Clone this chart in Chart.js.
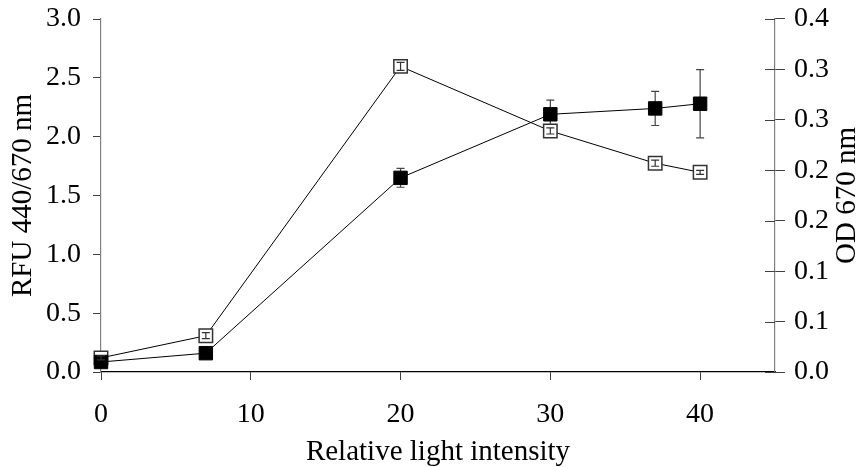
<!DOCTYPE html>
<html>
<head>
<meta charset="utf-8">
<script src="https://cdn.jsdelivr.net/npm/chart.js@4/dist/chart.umd.min.js"></script>
<style>
html,body{margin:0;padding:0;background:#fff;}
#wrap{width:863px;height:467px;}
</style>
</head>
<body>
<div id="wrap"><canvas id="c" width="863" height="467"></canvas></div>
<script>
// ---- data ----
const lightIntensity = [0, 7, 20, 30, 37, 40];
const rfuValues = [0.085, 0.16, 1.65, 2.19, 2.24, 2.28];
const rfuErrors = [0.02, 0.03, 0.08, 0.12, 0.145, 0.29];
const odValues = [0.014, 0.036, 0.303, 0.239, 0.207, 0.198];
const odErrors = [0.002, 0.003, 0.004, 0.003, 0.003, 0.002];
const xTickValues = [0, 10, 20, 30, 40];
const leftTickLabels = ['0.0', '0.5', '1.0', '1.5', '2.0', '2.5', '3.0'];
const rightTickLabels = ['0.0', '0.1', '0.1', '0.2', '0.2', '0.3', '0.3', '0.4'];
const xTitle = 'Relative light intensity';
const leftTitle = 'RFU 440/670 nm';
const rightTitle = 'OD 670 nm';

const FONT = "'Liberation Serif', 'Times New Roman', serif";

function drawBars(chart, dsIndex, values, errors, color) {
  const ctx = chart.ctx;
  const ds = chart.data.datasets[dsIndex];
  const xs = chart.scales.x;
  const ys = chart.scales[ds.yAxisID];
  ctx.save();
  ctx.strokeStyle = color;
  ctx.lineWidth = 1.2;
  for (let i = 0; i < values.length; i++) {
    if (!errors[i]) continue;
    const px = xs.getPixelForValue(lightIntensity[i]);
    const t = ys.getPixelForValue(values[i] + errors[i]);
    const b = ys.getPixelForValue(values[i] - errors[i]);
    ctx.beginPath();
    ctx.moveTo(px, t); ctx.lineTo(px, b);
    ctx.moveTo(px - 4, t); ctx.lineTo(px + 4, t);
    ctx.moveTo(px - 4, b); ctx.lineTo(px + 4, b);
    ctx.stroke();
  }
  ctx.restore();
}

const extras = {
  id: 'extras',
  beforeDatasetsDraw(chart) {
    drawBars(chart, 0, rfuValues, rfuErrors, '#444');
  },
  afterDatasetsDraw(chart) {
    drawBars(chart, 1, odValues, odErrors, '#333');
  },
  afterDraw(chart) {
    const ctx = chart.ctx;
    const y2 = chart.scales.y2;
    const area = chart.chartArea;
    ctx.save();
    // inward half of the right-axis tick marks
    ctx.strokeStyle = '#404040';
    ctx.lineWidth = 1;
    y2.ticks.forEach(t => {
      const py = Math.round(y2.getPixelForValue(t.value)) + 0.5;
      ctx.beginPath();
      ctx.moveTo(area.right - 10, py);
      ctx.lineTo(area.right, py);
      ctx.stroke();
    });
    // right axis title, reading bottom to top
    ctx.fillStyle = '#000';
    ctx.font = '29px ' + FONT;
    ctx.textAlign = 'center';
    ctx.textBaseline = 'alphabetic';
    ctx.translate(855, (y2.top + y2.bottom) / 2);
    ctx.rotate(-Math.PI / 2);
    ctx.fillText(rightTitle, 0, 0);
    ctx.restore();
  }
};

function noPad(scale) {
  scale.paddingTop = 0;
  scale.paddingBottom = 0;
}

new Chart(document.getElementById('c'), {
  type: 'line',
  data: {
    datasets: [
      {
        label: leftTitle,
        data: lightIntensity.map((x, i) => ({x: x, y: rfuValues[i]})),
        yAxisID: 'y',
        borderColor: '#000',
        borderWidth: 1,
        pointStyle: 'rect',
        pointRadius: 9.5,
        pointHoverRadius: 9.5,
        pointBackgroundColor: '#000',
        pointBorderColor: '#000',
        pointBorderWidth: 1,
        tension: 0,
        clip: false
      },
      {
        label: rightTitle,
        data: lightIntensity.map((x, i) => ({x: x, y: odValues[i]})),
        yAxisID: 'y2',
        borderColor: '#000',
        borderWidth: 1,
        pointStyle: 'rect',
        pointRadius: 9.5,
        pointHoverRadius: 9.5,
        pointBackgroundColor: '#fff',
        pointBorderColor: '#333',
        pointBorderWidth: 1.5,
        tension: 0,
        clip: false
      }
    ]
  },
  options: {
    responsive: false,
    animation: false,
    devicePixelRatio: 1,
    layout: {padding: {top: 19, left: 0, right: 0, bottom: 0}},
    plugins: {legend: {display: false}, tooltip: {enabled: false}},
    scales: {
      x: {
        type: 'linear',
        min: 0,
        max: 45,
        afterBuildTicks(scale) {
          scale.ticks = xTickValues.map(v => ({value: v}));
        },
        afterFit(scale) { scale.height = 95; },
        grid: {drawOnChartArea: false, drawTicks: true, tickLength: 8, color: '#404040'},
        border: {display: true, color: '#000', width: 1.2},
        ticks: {
          font: {family: FONT, size: 28},
          color: '#000',
          padding: 18,
          maxRotation: 0,
          callback: v => String(v)
        },
        title: {
          display: true,
          text: xTitle,
          font: {family: FONT, size: 29, lineHeight: 1},
          color: '#000',
          padding: {top: 0, bottom: 0}
        }
      },
      y: {
        type: 'linear',
        position: 'left',
        min: 0,
        max: 3,
        afterBuildTicks(scale) {
          scale.ticks = leftTickLabels.map(s => ({value: parseFloat(s)}));
        },
        afterFit(scale) { scale.width = 101; noPad(scale); },
        grid: {drawOnChartArea: false, drawTicks: true, tickLength: 8, color: '#404040'},
        border: {display: true, color: '#808080', width: 1.2},
        ticks: {
          font: {family: FONT, size: 28},
          color: '#000',
          padding: 12,
          callback: (v, i) => leftTickLabels[i]
        },
        title: {
          display: true,
          text: leftTitle,
          font: {family: FONT, size: 29, lineHeight: 1},
          color: '#000',
          padding: {top: 9, bottom: 0}
        }
      },
      y2: {
        type: 'linear',
        position: 'right',
        min: 0,
        max: 0.35,
        afterBuildTicks(scale) {
          scale.ticks = rightTickLabels.map((s, i) => ({value: i * 0.05}));
        },
        afterFit(scale) { scale.width = 88; noPad(scale); },
        grid: {drawOnChartArea: false, drawTicks: true, tickLength: 10, color: '#404040'},
        border: {display: true, color: '#808080', width: 1.2},
        ticks: {
          font: {family: FONT, size: 28},
          color: '#000',
          padding: 9,
          callback: (v, i) => rightTickLabels[i]
        }
      }
    }
  },
  plugins: [extras]
});
</script>
</body>
</html>
